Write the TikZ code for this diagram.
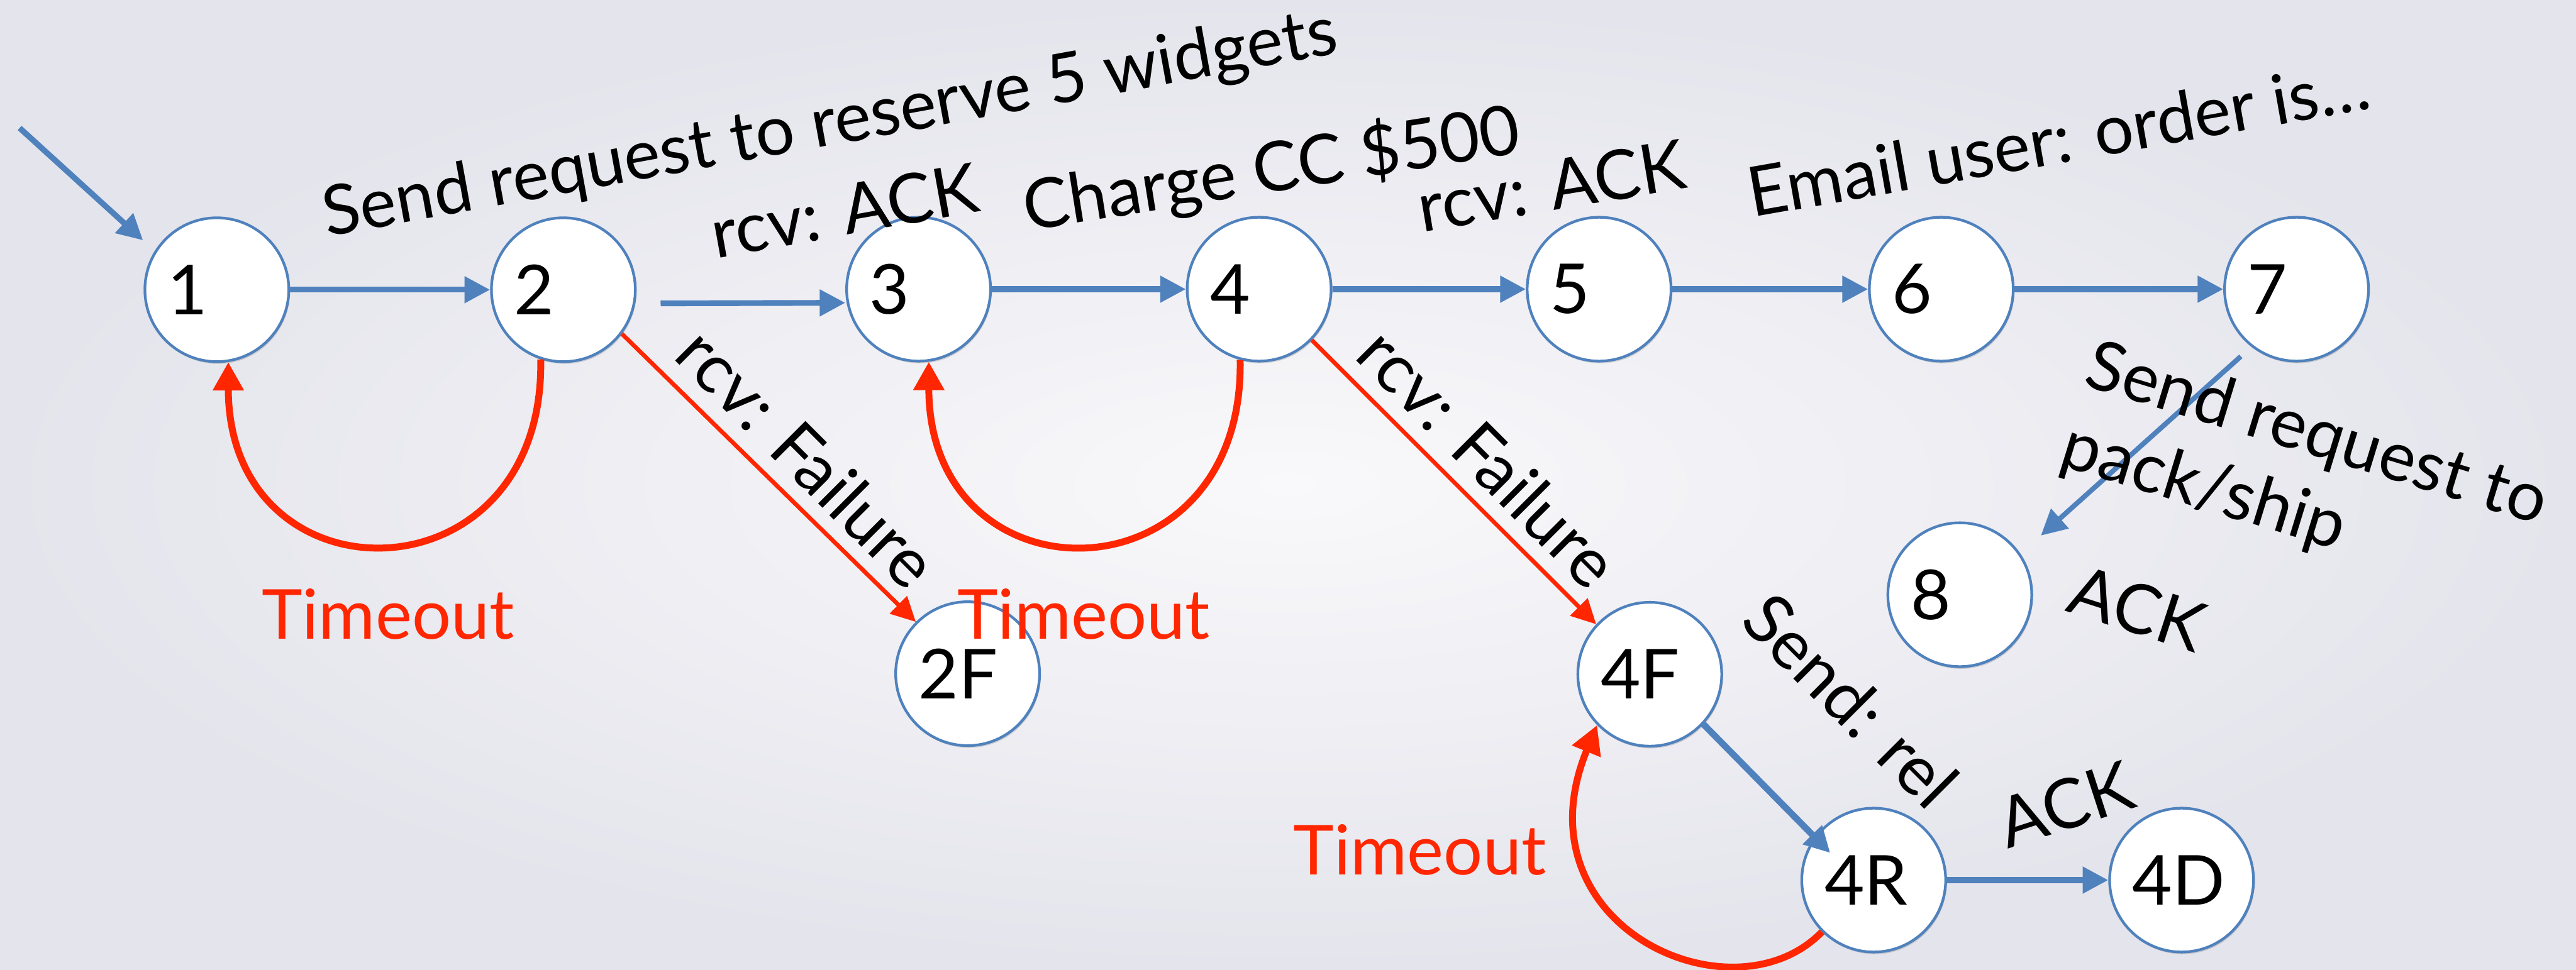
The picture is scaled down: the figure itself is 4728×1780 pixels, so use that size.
\documentclass[tikz,border=0pt]{standalone}
\usepackage{fontspec}
\setmainfont{Lato}
\usetikzlibrary{arrows.meta,shadows,calc}
\definecolor{nblue}{RGB}{79,129,189}
\definecolor{nred}{RGB}{255,38,0}
\definecolor{bgin}{RGB}{249,249,251}
\definecolor{bgout}{RGB}{228,228,236}
\begin{document}
\begin{tikzpicture}[x=0.01cm,y=-0.01cm,
  state/.style={circle, draw=nblue, line width=1.4pt, fill=white, minimum size=2.64cm,
    inner sep=0pt, text width=1.8cm, align=left, font=\fontsize{36}{42}\selectfont,
    drop shadow={shadow xshift=0.02cm, shadow yshift=-0.04cm, opacity=0.25, fill=black!60}},
  barrow/.style={draw=nblue, line width=3pt, -{Triangle[length=0.47cm,width=0.47cm]}},
  rloop/.style={draw=nred, line width=3.6pt, -{Triangle[length=0.52cm,width=0.54cm]}},
  rline/.style={draw=nred, line width=2.2pt, -{Triangle[length=0.45cm,width=0.44cm]}},
  lbl/.style={font=\fontsize{36}{43.5}\selectfont, inner sep=0pt},
  rlbl/.style={lbl, text=nred}]
\useasboundingbox (0,0) rectangle (4728,1780);
\shade[inner color=bgin, outer color=bgout] (0,0) rectangle (4728,1780);

% states
\node[state] (n1) at (398,532) {1};
\node[state] (n2) at (1034,532) {2};
\node[state] (n3) at (1686,531) {3};
\node[state] (n4) at (2311,531) {4};
\node[state] (n5) at (2935,531) {5};
\node[state] (n6) at (3563,531) {6};
\node[state] (n7) at (4215,531) {7};
\node[state] (n8) at (3597,1092) {8};
\node[state] (n2F) at (1776,1237) {2F};
\node[state] (n4F) at (3028,1238) {4F};
\node[state] (n4R) at (3439,1616) {4R};
\node[state] (n4D) at (4004,1616) {4D};

% blue transitions
\coordinate (start) at (36,235);
\draw[barrow, shorten >=0.29cm] (start) -- (n1.148);
\draw[barrow] (n1.east) -- (n2.west);
\draw[barrow] ([xshift=0.44cm,yshift=-0.25cm]n2.east) -- ([yshift=-0.25cm]n3.west);
\draw[barrow] (n3.east) -- (n4.west);
\draw[barrow] (n4.east) -- (n5.west);
\draw[barrow] (n5.east) -- (n6.west);
\draw[barrow] (n6.east) -- (n7.west);
\draw[barrow, line width=2.6pt, shorten <=0.26cm, shorten >=0.5cm] (n7.-128) -- (n8.34);
\draw[barrow, line width=3.4pt] (n4F.-43) -- ($(n4R.center)!0.7!(n4R.148)$);
\draw[barrow] (n4R.east) -- (n4D.west);

% red transitions
\draw[rline] (n2.-37) -- (n2F.135);
\draw[rline] (n4.-44) -- (n4F.137);
\draw[rloop] (n2.252) .. controls +(8,450) and +(0,450) .. (n1.-81);
\draw[rloop] (n4.-105) .. controls +(8,450) and +(0,450) .. (n3.-82);
\draw[rloop] (n4R.225) .. controls (3180,1880) and (2780,1700) .. (n4F.224);

% labels
\node[lbl, anchor=base, rotate=10.3] (t1) at (1530,266) {Send request to reserve 5 widgets};
\node[lbl, anchor=base, rotate=10.2] (t2) at (1558,431) {rcv: ACK};
\node[lbl, anchor=base, rotate=9] (t3) at (2340,352) {Charge CC \$500};
\node[lbl, anchor=base, rotate=9.5] (t4) at (2855,386) {rcv: ACK};
\node[lbl, anchor=base, rotate=10] (t5) at (3786,299) {Email user: order is…};
\node[lbl, anchor=base west, rotate=-17, align=left] (t6) at (3776,853) {Send request to\\pack/ship};
\node[lbl, rotate=-18] (t7) at (3923,1117) {ACK};
\node[lbl, rotate=-45] (t8) at (1482,840) {rcv: Failure};
\node[lbl, rotate=-45] (t9) at (2732,840) {rcv: Failure};
\node[lbl, rotate=-45] (t10) at (3397,1286) {Send: rel};
\node[lbl, rotate=18] (t11) at (3791,1477) {ACK};
\node[rlbl, anchor=base] (to1) at (712,1173) {Timeout};
\node[rlbl, anchor=base] (to2) at (1989,1173) {Timeout};
\node[rlbl, anchor=base] (to3) at (2606,1606) {Timeout};
\end{tikzpicture}
\end{document}
